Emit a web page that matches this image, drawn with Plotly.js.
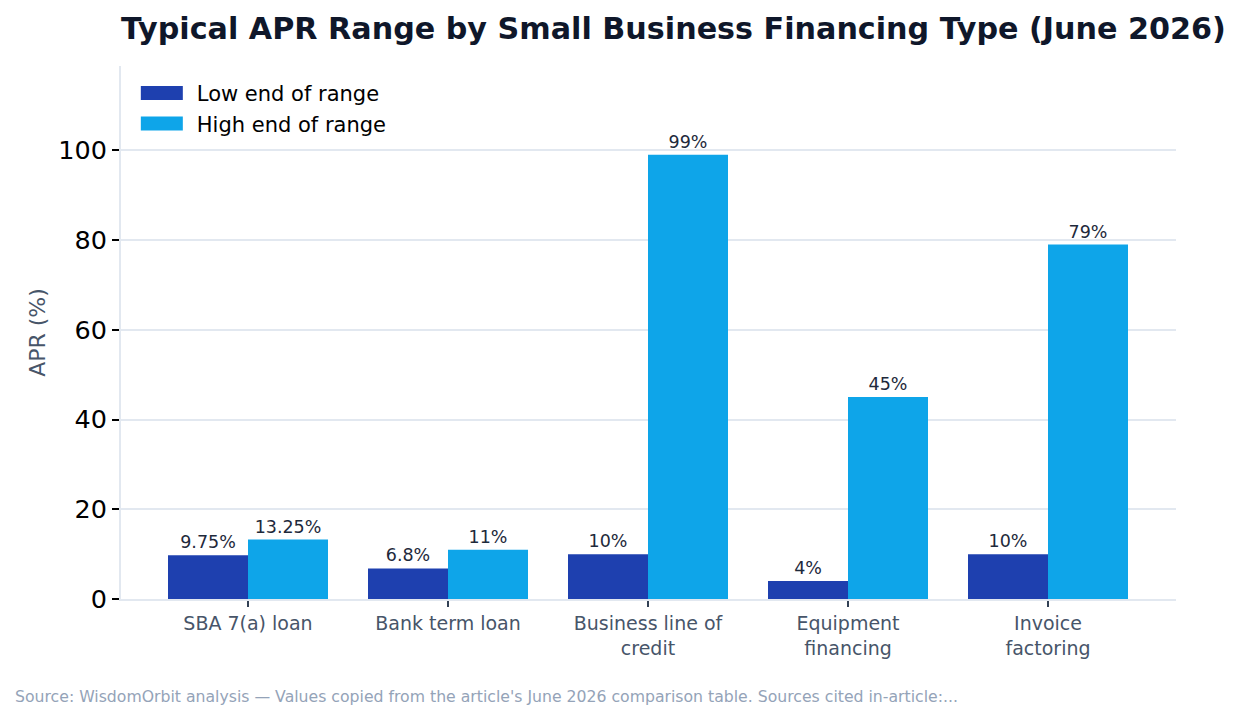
<!DOCTYPE html>
<html>
<head>
<meta charset="utf-8">
<script src="https://cdn.plot.ly/plotly-3.0.1.min.js"></script>
<style>
  html, body { margin: 0; padding: 0; background: #ffffff; }
  #chart { width: 1239px; height: 718px; }
</style>
</head>
<body>
<div id="chart"></div>
<script>
// Financing types and their typical APR range (percent)
const categories = [
  "SBA 7(a) loan",
  "Bank term loan",
  "Business line of<br>credit",
  "Equipment<br>financing",
  "Invoice<br>factoring"
];
const lowApr = [9.75, 6.8, 10, 4, 10];
const highApr = [13.25, 11, 99, 45, 79];
const seriesNames = ["Low end of range", "High end of range"];

const FONT = "DejaVu Sans, Verdana, sans-serif";

const traces = [
  {
    type: "bar",
    name: seriesNames[0],
    x: categories,
    y: lowApr,
    marker: { color: "#1e40af" },
    texttemplate: "%{y}%",
    textposition: "outside",
    cliponaxis: false,
    outsidetextfont: { family: FONT, size: 17.5, color: "#1e293b" },
    hoverinfo: "x+y"
  },
  {
    type: "bar",
    name: seriesNames[1],
    x: categories,
    y: highApr,
    marker: { color: "#0ea5e9" },
    texttemplate: "%{y}%",
    textposition: "outside",
    cliponaxis: false,
    outsidetextfont: { family: FONT, size: 17.5, color: "#1e293b" },
    hoverinfo: "x+y"
  }
];

const layout = {
  width: 1239,
  height: 718,
  paper_bgcolor: "#ffffff",
  plot_bgcolor: "#ffffff",
  margin: { l: 121, r: 63, t: 66, b: 119 },
  font: { family: FONT, color: "#000000" },
  barmode: "group",
  bargap: 0.2,
  bargroupgap: 0,
  title: {
    text: "<b>Typical APR Range by Small Business Financing Type (June 2026)</b>",
    font: { family: FONT, size: 30.2, color: "#0f172a" },
    x: 0.0977, xanchor: "left",
    y: 0.96, yanchor: "middle"
  },
  xaxis: {
    type: "category",
    range: [-0.635, 4.64],
    showline: true,
    linecolor: "#e2e8f0",
    linewidth: 2,
    ticks: "outside",
    ticklen: 6,
    tickwidth: 2,
    tickcolor: "#334155",
    tickfont: { family: FONT, size: 19, color: "#475569" },
    showgrid: false,
    zeroline: false
  },
  yaxis: {
    range: [0, 118.8],
    dtick: 20,
    tick0: 0,
    showline: true,
    linecolor: "#e2e8f0",
    linewidth: 2,
    ticks: "outside",
    ticklen: 7,
    tickwidth: 2,
    tickcolor: "#000000",
    tickfont: { family: FONT, size: 25.5, color: "#000000" },
    showgrid: true,
    gridcolor: "#e2e8f0",
    gridwidth: 1.5,
    zeroline: false,
    title: {
      text: "APR (%)",
      font: { family: FONT, size: 22, color: "#475569" },
      standoff: 7
    }
  },
  legend: {
    x: 0.015, y: 0.987,
    xanchor: "left", yanchor: "top",
    bgcolor: "rgba(255,255,255,0)",
    font: { family: FONT, size: 21, color: "#000000" },
    itemwidth: 50,
    tracegroupgap: 4
  },
  annotations: [
    {
      text: "Source: WisdomOrbit analysis — Values copied from the article's June 2026 comparison table. Sources cited in-article:...",
      xref: "paper", yref: "paper",
      x: -0.1026, y: -0.183,
      xanchor: "left", yanchor: "middle",
      showarrow: false,
      font: { family: FONT, size: 15.7, color: "#94a3b8" }
    }
  ],
  showlegend: true
};

// Widen the legend swatches into flat bars ahead of the labels
function widenSwatches() {
  document.querySelectorAll("#chart .legend .legendpoints path").forEach(p => {
    p.setAttribute("d", "M-26,-7H16V7H-26Z");
  });
}

Plotly.newPlot("chart", traces, layout, { displayModeBar: false, responsive: false })
  .then(widenSwatches);
</script>
</body>
</html>
